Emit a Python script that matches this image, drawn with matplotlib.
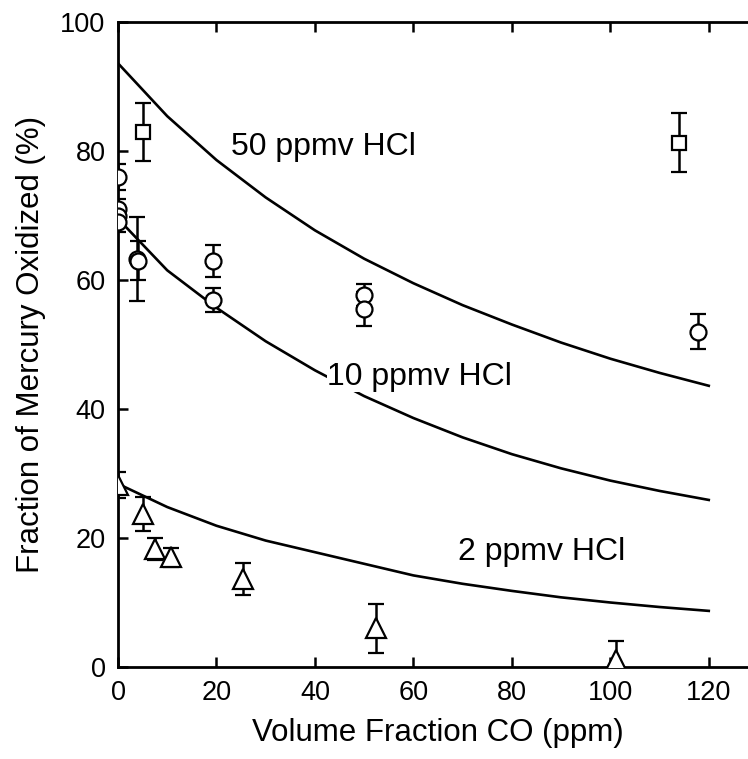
import matplotlib
matplotlib.use('Agg')
import matplotlib.pyplot as plt
import numpy as np

plt.rcParams['font.family'] = ['Liberation Sans', 'DejaVu Sans']

# Model curves
x_curve = [0, 10, 20, 30, 40, 50, 60, 70, 80, 90, 100, 110, 120]
hcl50 = [93.6, 85.4, 78.6, 72.8, 67.7, 63.3, 59.5, 56.1, 53.1, 50.3, 47.8, 45.6, 43.6]
hcl10 = [69.5, 61.5, 55.7, 50.5, 46.0, 42.0, 38.6, 35.6, 33.0, 30.8, 28.9, 27.3, 25.9]
hcl2 = [28.4, 24.8, 21.9, 19.6, 17.8, 16.0, 14.2, 12.9, 11.8, 10.8, 10.0, 9.3, 8.7]

# Measurements
sq_x = [5.1, 113.9]
sq_y = [83.0, 81.3]
sq_err = [4.5, 4.6]

ci_x = [0, 0, 0, 0, 3.8, 4.0, 19.2, 19.2, 50.0, 50.0, 117.8]
ci_y = [76.0, 71.0, 70.0, 69.0, 63.3, 63.0, 62.9, 56.9, 57.7, 55.5, 52.0]
ci_err = [2.0, 1.5, 1.5, 1.5, 6.5, 3.0, 2.5, 1.9, 1.7, 2.7, 2.7]

tr_x = [0, 5.1, 7.5, 10.7, 25.3, 52.4, 101.2]
tr_y = [28.2, 23.7, 18.3, 17.0, 13.6, 6.0, 1.1]
tr_err = [2.0, 2.6, 1.7, 1.5, 2.5, 3.8, 3.0]

labels = ['50 ppmv HCl', '10 ppmv HCl', '2 ppmv HCl']
label_pos = [(22.9, 80.6), (42.5, 45.0), (69.0, 17.8)]

fig = plt.figure(figsize=(7.48, 7.59), dpi=100)
ax = fig.add_axes([118/748, 92/759, 640/748, 645/759])
ax.set_xlim(0, 130)
ax.set_ylim(0, 100)
ax.set_xticks(range(0, 121, 20))
ax.set_yticks(range(0, 101, 20))

lw = 1.9
for yc in (hcl50, hcl10, hcl2):
    ax.plot(x_curve, yc, color='black', lw=lw, zorder=2)

ekw = dict(ls='none', color='black', mfc='white', mec='black', mew=1.6,
           elinewidth=1.8, capsize=5.5, capthick=1.8, zorder=3)
ax.errorbar(sq_x, sq_y, yerr=sq_err, marker='s', ms=10, **ekw)
ax.errorbar(ci_x, ci_y, yerr=ci_err, marker='o', ms=11.5, **ekw)
ax.errorbar(tr_x, tr_y, yerr=tr_err, marker='^', ms=14, **ekw)

for txt, (tx, ty) in zip(labels, label_pos):
    ax.text(tx, ty, txt, fontsize=23, va='center', ha='left', zorder=4,
            bbox=dict(facecolor='white', edgecolor='none', pad=0))

for s in ax.spines.values():
    s.set_linewidth(2.0)
ax.tick_params(direction='in', length=7, width=1.8, labelsize=19.5, pad=9,
               top=True, right=True)
ax.set_xlabel('Volume Fraction CO (ppm)', fontsize=22.5, labelpad=9)
ax.set_ylabel('Fraction of Mercury Oxidized (%)', fontsize=22.5, labelpad=10)

fig.savefig('out.png', dpi=100)
